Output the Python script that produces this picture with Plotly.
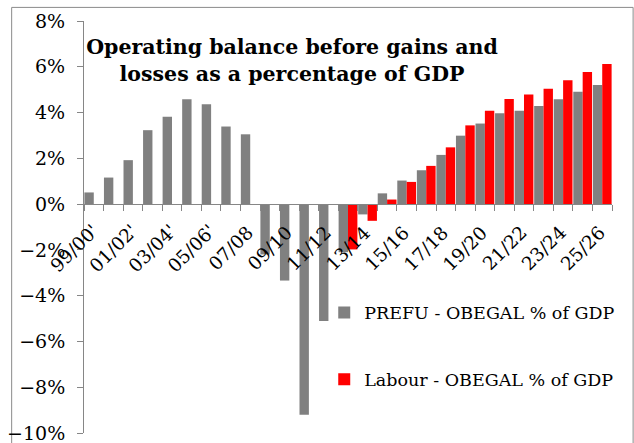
import plotly.graph_objects as go

# Fiscal years (June year-end), 1999/00 to 2025/26
years = ["99/00'", "00/01'", "01/02'", "02/03'", "03/04'", "04/05'", "05/06'",
         "06/07'", "07/08", "08/09", "09/10", "10/11", "11/12", "12/13",
         "13/14", "14/15", "15/16", "16/17", "17/18", "18/19", "19/20",
         "20/21", "21/22", "22/23", "23/24", "24/25", "25/26"]

# Only every second year is labelled on the axis
tick_labels = [y if i % 2 == 0 else "" for i, y in enumerate(years)]

# OBEGAL as % of GDP
prefu = [0.51, 1.16, 1.92, 3.23, 3.82, 4.58, 4.36, 3.39, 3.05, -2.2, -3.34,
         -9.2, -5.11, -2.1, -0.45, 0.47, 1.03, 1.48, 2.15, 2.99, 3.52, 3.97,
         4.08, 4.29, 4.58, 4.91, 5.20]
labour = [None] * 13 + [-1.98, -0.73, 0.2, 0.97, 1.67, 2.48, 3.44, 4.08,
                        4.59, 4.79, 5.04, 5.41, 5.77, 6.12]

y_min, y_max = -10, 8
serif = "DejaVu Serif"
axis_grey = "#868686"

width, height = 634, 443
m_l, m_r, m_t, m_b = 84, 22, 21, 10

# ticks sit on the category boundaries
boundary_vals = [i - 0.5 for i in range(len(years) + 1)]

# fraction of the plot height where the value axis crosses zero
zero_frac = (0 - y_min) / (y_max - y_min)

fig = go.Figure()
fig.add_trace(go.Bar(x=years, y=prefu, name="PREFU - OBEGAL % of GDP",
                     marker=dict(color="#808080", line=dict(width=0)),
                     legend="legend"))
fig.add_trace(go.Bar(x=years, y=labour, name="Labour - OBEGAL % of GDP",
                     marker=dict(color="#ff0000", line=dict(width=0)),
                     legend="legend2"))

# slanted year labels hanging just under the zero line, each one centred
# below and to the left of its category so its upper end meets the tick
year_labels = [
    dict(x=cat, y=0, xref="x", yref="y", text=txt, showarrow=False,
         textangle=-45, xanchor="center", yanchor="middle",
         xshift=-20, yshift=-44,
         font=dict(family=serif, size=18.5, color="black"))
    for cat, txt in zip(years, tick_labels) if txt
]

fig.update_layout(
    width=width, height=height,
    margin=dict(l=m_l, r=m_r, t=m_t, b=m_b, autoexpand=False),
    paper_bgcolor="white", plot_bgcolor="white",
    barmode="group", bargap=0.04, bargroupgap=0,
    showlegend=True,
    font=dict(family=serif, color="black", size=19),
    title=dict(
        text="Operating balance before gains and<br>losses as a percentage of GDP",
        font=dict(family=serif, size=20.5, color="black", weight="bold"),
        x=0.4606, xanchor="center", xref="container",
        y=0.878, yanchor="top", yref="container",
    ),
    xaxis=dict(
        type="category", categoryorder="array", categoryarray=years,
        range=[-0.5, len(years) - 0.5],
        anchor="free", position=zero_frac,
        tickmode="array", tickvals=boundary_vals, showticklabels=False,
        ticks="outside", ticklen=6, tickcolor=axis_grey,
        showline=True, linecolor=axis_grey, linewidth=1,
        showgrid=False, zeroline=False, automargin=False,
    ),
    yaxis=dict(
        range=[y_min, y_max], tick0=0, dtick=2, ticksuffix="%",
        ticks="outside", ticklen=6, tickcolor=axis_grey,
        ticklabelstandoff=8, ticklabeloverflow="allow",
        tickfont=dict(family=serif, size=19, color="black"),
        showline=True, linecolor=axis_grey, linewidth=1,
        showgrid=False, zeroline=False, automargin=False,
    ),
    annotations=year_labels,
    legend=dict(x=0.455, y=0.292, xanchor="left", yanchor="middle",
                bgcolor="rgba(0,0,0,0)", font=dict(family=serif, size=17.5)),
    legend2=dict(x=0.455, y=0.13, xanchor="left", yanchor="middle",
                 bgcolor="rgba(0,0,0,0)", font=dict(family=serif, size=17.5)),
    shapes=[dict(type="rect", xref="paper", yref="paper",
                 x0=-0.137, x1=1.040, y0=-0.1, y1=1.033,
                 line=dict(color="#8a8a8a", width=1), layer="below")],
)

fig.write_html("out.html")
